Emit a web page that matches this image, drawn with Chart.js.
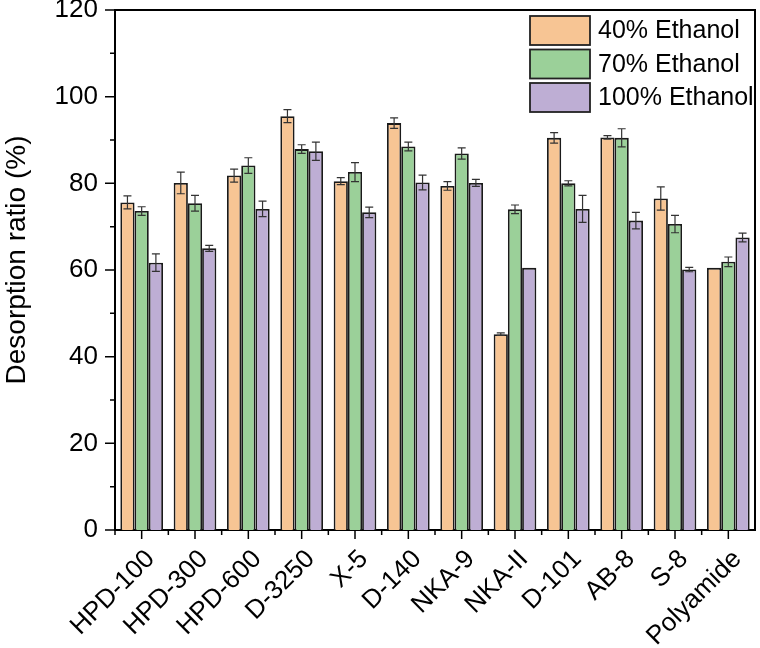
<!DOCTYPE html>
<html>
<head>
<meta charset="utf-8">
<script src="https://cdn.jsdelivr.net/npm/chart.js@4/dist/chart.umd.min.js"></script>
<style>
  html, body { margin: 0; padding: 0; background: #fff; }
  canvas { display: block; }
</style>
</head>
<body>
<canvas id="desorptionChart" width="760" height="648"></canvas>
<script>
// resins tested
const categories = ['HPD-100', 'HPD-300', 'HPD-600', 'D-3250', 'X-5', 'D-140', 'NKA-9', 'NKA-II', 'D-101', 'AB-8', 'S-8', 'Polyamide'];

// desorption ratio (%) for each ethanol concentration
const ethanol40 = [75.6, 80.1, 81.8, 95.5, 80.5, 93.9, 79.4, 45.2, 90.5, 90.6, 76.5, 60.5];
const ethanol70 = [73.6, 75.4, 84.1, 87.9, 82.6, 88.5, 86.9, 74.0, 80.0, 90.5, 70.6, 61.9];
const ethanol100 = [61.7, 65.0, 74.1, 87.4, 73.3, 80.2, 80.1, 60.5, 74.1, 71.4, 60.1, 67.5];

// error bars (+/-)
const err40 = [1.5, 2.5, 1.5, 1.5, 0.8, 1.2, 1.0, 0.3, 1.2, 0.4, 2.7, 0.0];
const err70 = [1.0, 1.8, 1.8, 1.0, 2.2, 1.0, 1.3, 1.0, 0.6, 2.1, 2.0, 1.1];
const err100 = [2.0, 0.7, 1.8, 2.1, 1.2, 1.7, 0.8, 0.0, 3.1, 1.9, 0.5, 1.0];

const yTicks = [0, 20, 40, 60, 80, 100, 120];
const yTitle = 'Desorption ratio (%)';

const FONT = "'Liberation Sans', Arial, Helvetica, sans-serif";

// axis box, tick marks, error bars, y title and the legend inside the plot
const framePlugin = {
  id: 'frame',
  afterDatasetsDraw(chart) {
    const ctx = chart.ctx;
    const y = chart.scales.y;
    ctx.save();
    ctx.strokeStyle = '#333';
    ctx.lineWidth = 1.2;
    chart.data.datasets.forEach((ds, i) => {
      const meta = chart.getDatasetMeta(i);
      meta.data.forEach((bar, j) => {
        const e = ds.errors[j];
        if (!e) return;
        const top = y.getPixelForValue(ds.data[j] + e);
        const bot = y.getPixelForValue(ds.data[j] - e);
        ctx.beginPath();
        ctx.moveTo(bar.x, top); ctx.lineTo(bar.x, bot);
        ctx.moveTo(bar.x - 4, top); ctx.lineTo(bar.x + 4, top);
        ctx.moveTo(bar.x - 4, bot); ctx.lineTo(bar.x + 4, bot);
        ctx.stroke();
      });
    });
    ctx.restore();
  },
  afterDraw(chart) {
    const ctx = chart.ctx;
    const area = chart.chartArea;
    const x = chart.scales.x;
    const y = chart.scales.y;
    ctx.save();
    ctx.strokeStyle = '#000';
    ctx.lineWidth = 2;
    ctx.beginPath();
    ctx.moveTo(area.left, area.top); ctx.lineTo(area.right, area.top);
    ctx.lineTo(area.right, area.bottom);
    ctx.stroke();

    // y ticks, major every 20, minor every 10
    ctx.lineWidth = 1.5;
    ctx.beginPath();
    for (let v = 0; v <= 120; v += 10) {
      const py = y.getPixelForValue(v);
      const len = v % 20 === 0 ? 10 : 5;
      ctx.moveTo(area.left, py); ctx.lineTo(area.left - len, py);
    }
    // x ticks, major at categories, minor between
    const half = (x.getPixelForValue(1) - x.getPixelForValue(0)) / 2;
    for (let i = 0; i < categories.length; i++) {
      const px = x.getPixelForValue(i);
      ctx.moveTo(px, area.bottom); ctx.lineTo(px, area.bottom + 9);
      ctx.moveTo(px - half, area.bottom); ctx.lineTo(px - half, area.bottom + 5);
    }
    ctx.stroke();

    // y axis title
    ctx.save();
    ctx.translate(17, 260);
    ctx.rotate(-Math.PI / 2);
    ctx.font = '28px ' + FONT;
    ctx.fillStyle = '#000';
    ctx.textAlign = 'center';
    ctx.textBaseline = 'middle';
    ctx.fillText(yTitle, 0, 0);
    ctx.restore();

    // legend
    const lx = 530, ly = 16, sw = 60, sh = 29, gap = 33.5;
    ctx.font = '25px ' + FONT;
    ctx.textBaseline = 'middle';
    ctx.textAlign = 'left';
    chart.data.datasets.forEach((ds, i) => {
      const top = ly + i * gap;
      ctx.fillStyle = ds.backgroundColor;
      ctx.fillRect(lx, top, sw, sh);
      ctx.strokeStyle = '#222';
      ctx.lineWidth = 1.8;
      ctx.strokeRect(lx, top, sw, sh);
      ctx.fillStyle = '#000';
      ctx.fillText(ds.label, lx + 68, top + sh / 2 + 1);
    });
    ctx.restore();
  }
};

const barStyle = {
  borderColor: '#1a1a1a',
  borderWidth: 1.8,
  categoryPercentage: 0.8,
  barPercentage: 1.0
};

const ctx = document.getElementById('desorptionChart').getContext('2d');
const desorptionChart = new Chart(ctx, {
  type: 'bar',
  data: {
    labels: categories,
    datasets: [
      { label: '40% Ethanol', data: ethanol40, errors: err40, backgroundColor: '#F7C594', ...barStyle },
      { label: '70% Ethanol', data: ethanol70, errors: err70, backgroundColor: '#9BD099', ...barStyle },
      { label: '100% Ethanol', data: ethanol100, errors: err100, backgroundColor: '#BEAED4', ...barStyle },
    ],
  },
  options: {
    responsive: false,
    animation: false,
    devicePixelRatio: 1,
    layout: { padding: { top: 10, right: 5, left: 0, bottom: 0 } },
    plugins: {
      legend: { display: false },
      tooltip: { enabled: false },
    },
    scales: {
      x: {
        grid: { display: false, drawTicks: false },
        border: { display: true, color: '#000', width: 2 },
        ticks: {
          color: '#000',
          font: { family: FONT, size: 26 },
          minRotation: 45,
          maxRotation: 45,
          padding: 14,
          labelOffset: 9,
        },
        afterFit(scale) {
          scale.height = 118;
          scale.paddingLeft = 0;
          scale.paddingRight = 0;
        },
      },
      y: {
        min: 0,
        max: 120,
        grid: { display: false, drawTicks: false },
        border: { display: true, color: '#000', width: 2 },
        afterBuildTicks(scale) { scale.ticks = yTicks.map(v => ({ value: v })); },
        ticks: {
          color: '#000',
          font: { family: FONT, size: 26 },
          padding: 17,
        },
        afterFit(scale) {
          scale.width = 115;
          scale.paddingTop = 0;
          scale.paddingBottom = 0;
        },
      },
    },
  },
  plugins: [framePlugin],
});
</script>
</body>
</html>
